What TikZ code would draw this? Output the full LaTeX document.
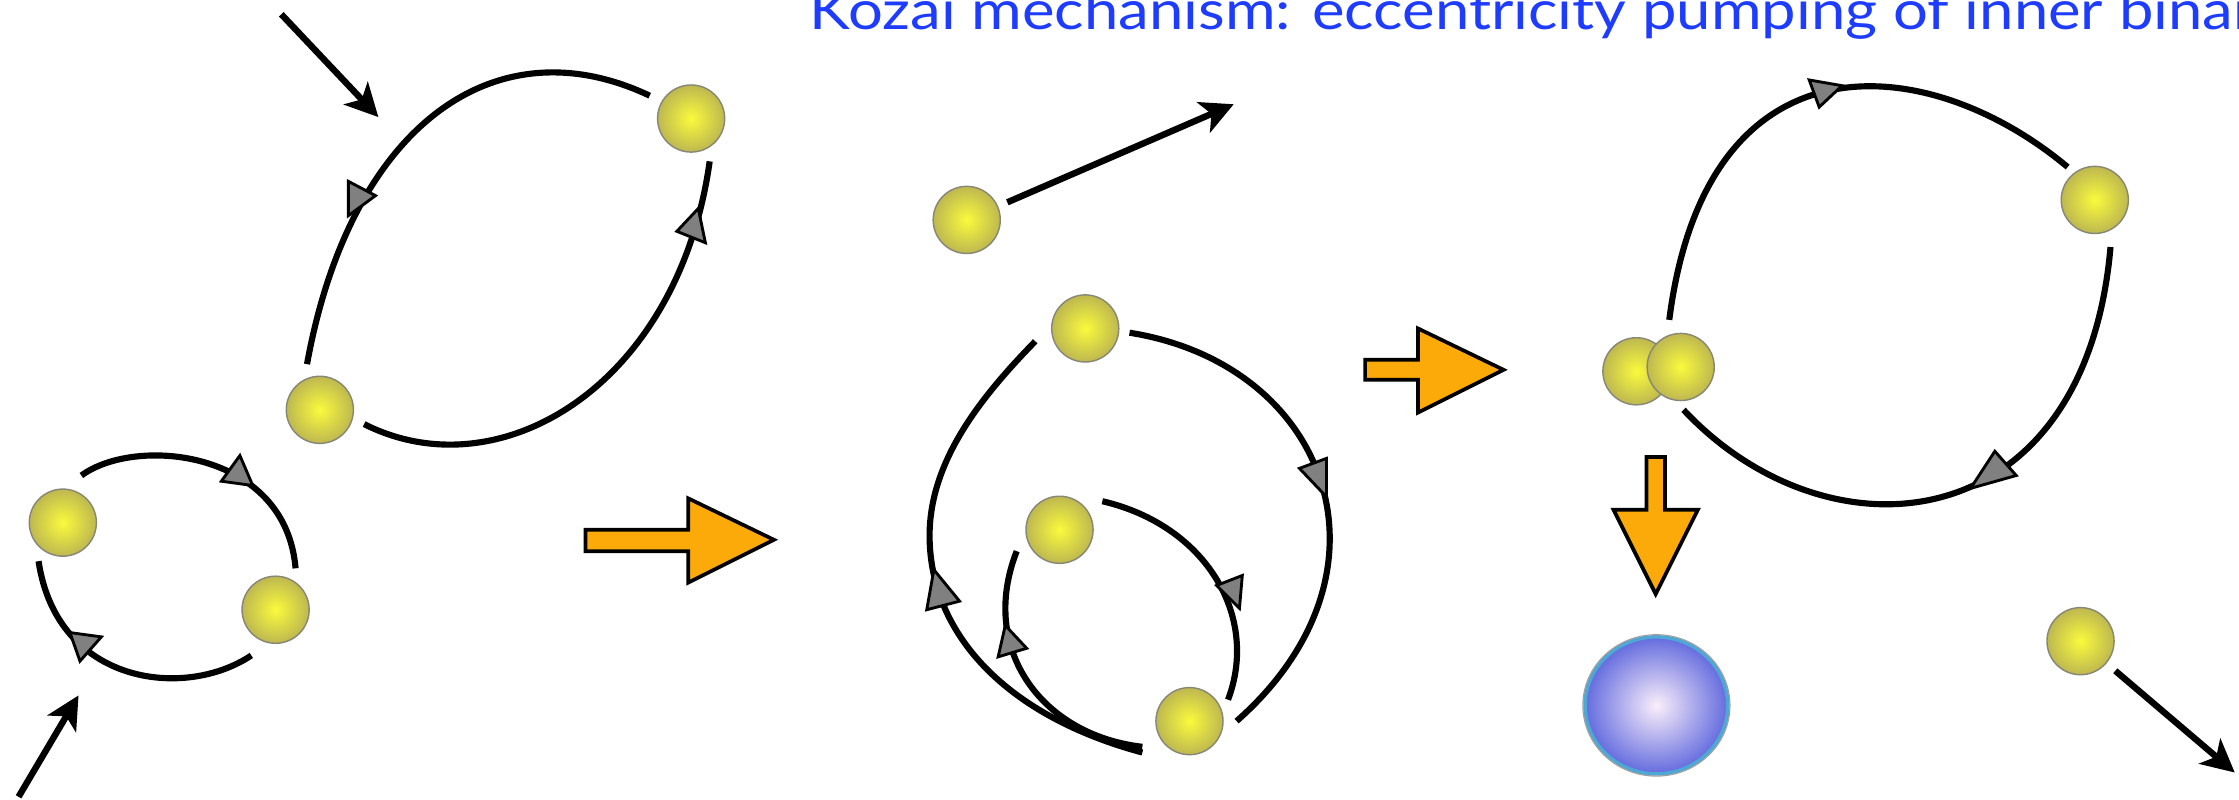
\documentclass[tikz,border=0pt]{standalone}
\usepackage{fontspec}
\setmainfont{Lato}
\usetikzlibrary{arrows.meta, shapes.geometric}

\definecolor{titleblue}{RGB}{30,60,255}
\definecolor{kozaiorange}{RGB}{252,170,10}
\definecolor{tipgray}{RGB}{128,128,128}
\definecolor{starcore}{RGB}{250,250,60}
\definecolor{staredge}{RGB}{190,184,80}
\definecolor{starrim}{RGB}{135,135,118}
\definecolor{wdcore}{RGB}{250,238,250}
\definecolor{wdedge}{RGB}{100,108,222}
\definecolor{wdrim}{RGB}{78,168,214}

\tikzset{
  star/.style={circle, minimum size=47pt, inner sep=0pt, draw=starrim, line width=1pt,
               inner color=starcore, outer color=staredge},
  dwarf/.style={ellipse, minimum width=100pt, minimum height=96pt, inner sep=0pt,
               draw=wdrim, line width=2.5pt, inner color=wdcore, outer color=wdedge},
  orbit/.style={line width=4.3pt, black},
  dirtri/.style={fill=tipgray, draw=black, line width=2pt, line join=miter},
  bigarrow/.style={fill=kozaiorange, draw=black, line width=2.6pt, line join=miter},
  kick/.style={line width=4.5pt, black, -{Stealth[length=23pt, width=23pt, inset=6pt]}},
}

\begin{document}
\begin{tikzpicture}[x=1pt, y=-1pt]
\useasboundingbox (0,0) rectangle (1568,560);
\clip (0,0) rectangle (1568,560);

% title line
\node[anchor=base west, text=titleblue, font=\fontsize{38}{44}\selectfont, inner sep=0pt,
      xscale=1.135] (title) at (567,21) {Kozai mechanism: eccentricity pumping of inner binary};

% ---------- stage 1: hierarchical triple approaching ----------
% wide binary
\draw[orbit] (455,67) .. controls (345,15) and (245,90) .. (215,255);
\draw[orbit] (255,297) .. controls (350,345) and (475,270) .. (497,113);
\draw[dirtri] (244,127) -- (263,137) -- (244,151) -- cycle;
\draw[dirtri] (474,162) -- (489,146) -- (494,170) -- cycle;
% close binary
\draw[orbit] (57,333) .. controls (95,305) and (200,315) .. (207,398);
\draw[orbit] (176,459) .. controls (130,490) and (40,480) .. (27,393);
\draw[dirtri] (168,319) -- (155,337) -- (177,340) -- cycle;
\draw[dirtri] (49,443) -- (71,446) -- (56,463) -- cycle;

\node[star] (s1) at (484,83) {};
\node[star] (s2) at (224,287) {};
\node[star] (s3) at (44,366) {};
\node[star] (s4) at (193,427) {};

\coordinate (k1a) at (197,10);
\coordinate (k1b) at (265,82);
\coordinate (k2a) at (13,558);
\coordinate (k2b) at (55,487);
\draw[kick] (k1a) -- (k1b);
\draw[kick] (k2a) -- (k2b);

% ---------- stage 2: exchange, one star ejected ----------
\draw[orbit] (791,233) .. controls (930,255) and (985,400) .. (866,505);
\draw[orbit] (800,527) .. controls (700,500) and (650,440) .. (651,373)
                       .. controls (652,320) and (690,275) .. (725,239);
\draw[orbit] (772,351) .. controls (845,368) and (882,432) .. (860,490);
\draw[orbit] (800,523) .. controls (730,515) and (685,455) .. (712,386);
\draw[dirtri] (910,328) -- (929,321) -- (929,348) -- cycle;
\draw[dirtri] (654,399) -- (672,421) -- (649,427) -- cycle;
\draw[dirtri] (852,410) -- (870,403) -- (868,426) -- cycle;
\draw[dirtri] (704,438) -- (719,454) -- (699,460) -- cycle;

\node[star] (s5) at (677,154) {};
\node[star] (s6) at (760,230) {};
\node[star] (s7) at (742,371) {};
\node[star] (s8) at (833,505) {};

\coordinate (k3) at (864,73);
\draw[kick, shorten <=7pt] (s5) -- (k3);

% ---------- stage 3: pumped binary merges ----------
\draw[orbit] (1169,224) .. controls (1195,20) and (1350,35) .. (1448,117);
\draw[orbit] (1478,173) .. controls (1460,380) and (1280,395) .. (1179,287);
\draw[dirtri] (1267,56) -- (1290,60) -- (1274,75) -- cycle;
\draw[dirtri] (1397,316) -- (1412,333) -- (1380,342) -- cycle;

\node[star] (s9) at (1146,260) {};
\node[star] (s10) at (1177,257) {};
\node[star] (s11) at (1467,140) {};
\node[star] (s12) at (1457,449) {};
\node[dwarf] (merger) at (1160,494) {};
\draw[gray!75, line width=0.8pt] (merger.center) ellipse [x radius=51.5, y radius=49.5];

\coordinate (k4) at (1565,541);
\draw[kick, shorten <=8pt] (s12) -- (k4);

% ---------- stage arrows ----------
\draw[bigarrow] (410,371) -- (482,371) -- (482,349) -- (542,378) -- (482,408) -- (482,386) -- (410,386) -- cycle;
\draw[bigarrow] (956,252) -- (993,252) -- (993,230) -- (1053,259) -- (993,289) -- (993,266) -- (956,266) -- cycle;
\draw[bigarrow] (1153,320) -- (1166,320) -- (1166,357) -- (1189,357) -- (1159.5,416) -- (1130,357) -- (1153,357) -- cycle;

\end{tikzpicture}
\end{document}
